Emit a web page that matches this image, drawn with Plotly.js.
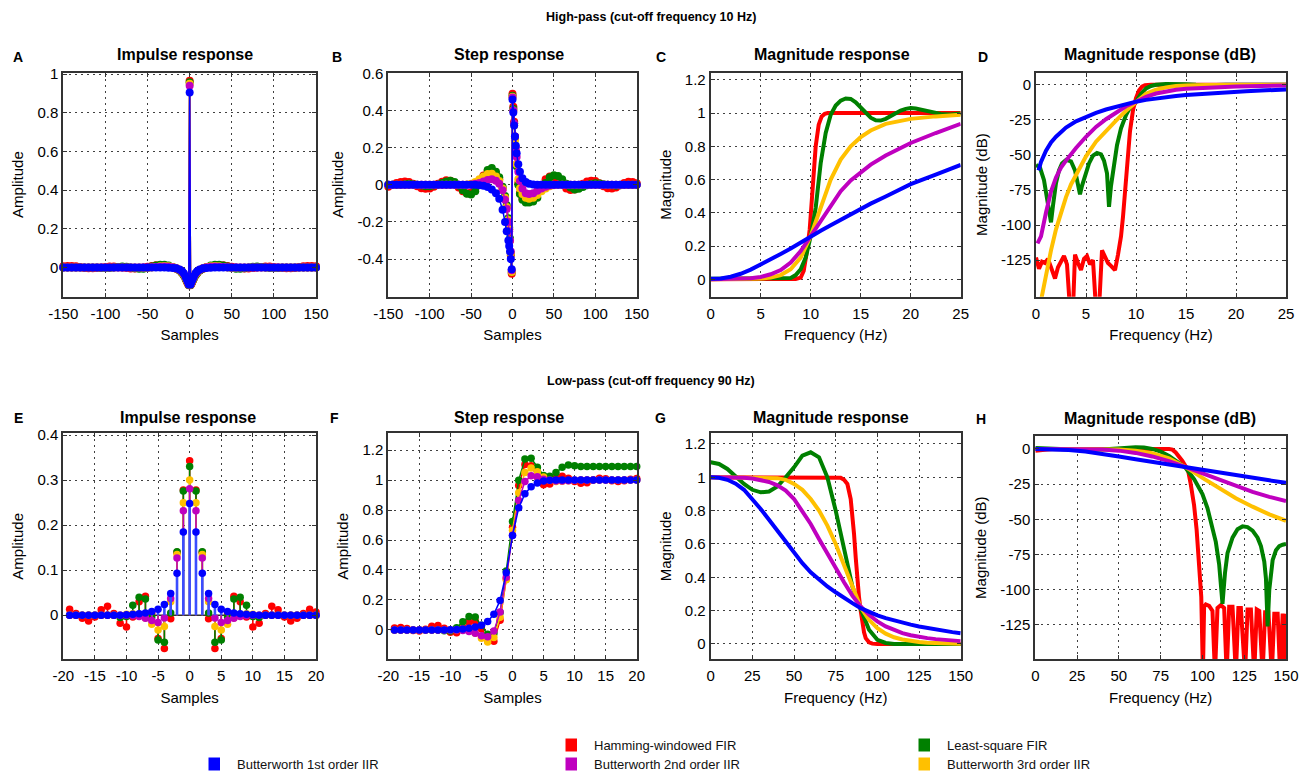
<!DOCTYPE html>
<html><head><meta charset="utf-8">
<script src="https://cdn.plot.ly/plotly-3.0.1.min.js"></script>
<style>html,body{margin:0;padding:0;background:#fff;}#chart{width:1306px;height:776px;}</style>
</head><body><div id="chart"></div>
<script>
// ---------------- DATA ----------------
const seriesKeys = ['red','green','yellow','magenta','blue'];
const seriesNames = {red:'Hamming-windowed FIR', green:'Least-square FIR', yellow:'Butterworth 3rd order IIR', magenta:'Butterworth 2nd order IIR', blue:'Butterworth 1st order IIR'};

// High-pass: samples for impulse / step responses
const hpSamples = [-150,-145,-140,-135,-130,-125,-120,-115,-110,-105,-100,-95,-90,-85,-80,-75,-70,-65,-60,-55,-50,-45,-40,-35,-30,-25,-20,-16,-12,-9,-7,-5,-4,-3,-2,-1,0,1,2,3,4,5,7,9,12,16,20,25,30,35,40,45,50,55,60,65,70,75,80,85,90,95,100,105,110,115,120,125,130,135,140,145,150];

const hpImpRed = [0.006,0.008,0.008,0.006,0.002,-0.002,-0.004,-0.004,-0.002,0,0.003,0.005,0.005,0.003,0,-0.003,-0.005,-0.005,-0.003,0,0.004,0.008,0.011,0.012,0.01,0.006,0,
 -0.006,-0.016,-0.028,-0.04,-0.056,-0.066,-0.076,-0.085,-0.092,0.965,-0.092,-0.085,-0.076,-0.066,-0.056,-0.04,-0.028,-0.016,-0.006,
 0,0.006,0.01,0.012,0.011,0.008,0.004,0,-0.003,-0.005,-0.005,-0.003,0,0.003,0.005,0.005,0.003,0,-0.002,-0.004,-0.004,-0.002,0.002,0.006,0.008,0.008,0.006];
const hpImpGreen = [0,0,0,0,0,0,0,0,0,-0.002,-0.003,-0.002,0,0.003,0.005,0.004,0,-0.004,-0.007,-0.006,-0.002,0.005,0.01,0.014,0.014,0.01,0.003,
 -0.005,-0.015,-0.028,-0.04,-0.055,-0.064,-0.073,-0.082,-0.09,0.958,-0.09,-0.082,-0.073,-0.064,-0.055,-0.04,-0.028,-0.015,-0.005,
 0.003,0.01,0.014,0.014,0.01,0.005,-0.002,-0.006,-0.007,-0.004,0,0.004,0.005,0.003,0,-0.002,-0.003,-0.002,0,0,0,0,0,0,0,0,0];
const hpImpYellow = [0,0,0,0,0,0,0,0,0,0,0,0,0,0,0,0,0,0,0,-0.001,-0.001,0,0.003,0.006,0.008,0.007,0.003,
 -0.003,-0.012,-0.024,-0.035,-0.05,-0.06,-0.07,-0.08,-0.088,0.95,-0.088,-0.08,-0.07,-0.06,-0.05,-0.035,-0.024,-0.012,-0.003,
 0.003,0.007,0.008,0.006,0.003,0,-0.001,-0.001,0,0,0,0,0,0,0,0,0,0,0,0,0,0,0,0,0,0,0];
const hpImpMagenta = [0,0,0,0,0,0,0,0,0,0,0,0,0,0,0,0,0,0,0,0,0,0.001,0.002,0.004,0.005,0.004,0.001,
 -0.004,-0.012,-0.022,-0.032,-0.046,-0.056,-0.066,-0.076,-0.086,0.94,-0.086,-0.076,-0.066,-0.056,-0.046,-0.032,-0.022,-0.012,-0.004,
 0.001,0.004,0.005,0.004,0.002,0.001,0,0,0,0,0,0,0,0,0,0,0,0,0,0,0,0,0,0,0,0,0];
const hpImpBlue = [0,0,0,0,0,0,0,0,0,0,0,0,0,0,0,0,0,0,0,0,0,0,0,0,0,-0.001,-0.002,
 -0.004,-0.01,-0.02,-0.03,-0.045,-0.055,-0.065,-0.075,-0.088,0.905,-0.088,-0.075,-0.065,-0.055,-0.045,-0.03,-0.02,-0.01,-0.004,
 -0.002,-0.001,0,0,0,0,0,0,0,0,0,0,0,0,0,0,0,0,0,0,0,0,0,0,0,0,0];

const hpStepRed = [-0.01,0,0.01,0.015,0.018,0.015,0.005,-0.008,-0.018,-0.022,-0.02,-0.01,0.005,0.017,0.024,0.022,0.01,-0.015,-0.035,-0.045,-0.042,-0.02,0.015,0.05,0.075,0.08,0.06,
 0.03,-0.02,-0.07,-0.12,-0.19,-0.24,-0.3,-0.38,-0.48,0.49,0.42,0.34,0.26,0.18,0.11,0.01,-0.045,-0.075,-0.088,
 -0.085,-0.07,-0.04,0,0.03,0.045,0.042,0.025,0,-0.02,-0.028,-0.025,-0.012,0.005,0.018,0.022,0.02,0.008,-0.008,-0.018,-0.02,-0.015,-0.003,0.01,0.016,0.015,0.008];
const hpStepGreen = [0,0,0,0,0.003,0.005,0.003,0,-0.004,-0.008,-0.008,-0.004,0.002,0.01,0.018,0.022,0.015,-0.005,-0.03,-0.048,-0.052,-0.035,0,0.045,0.08,0.09,0.07,
 0.04,-0.01,-0.06,-0.11,-0.18,-0.23,-0.29,-0.37,-0.47,0.48,0.41,0.33,0.25,0.17,0.1,0,-0.05,-0.08,-0.095,
 -0.095,-0.09,-0.07,-0.03,0.01,0.04,0.052,0.048,0.03,0.005,-0.015,-0.025,-0.022,-0.012,-0.002,0.005,0.008,0.007,0.003,0,-0.003,-0.005,-0.003,0,0,0,0];
const hpStepYellow = [0,0,0,0,0,0,0,0,0,0,0,0,0,0,0,0,0,0,0,0.002,0.006,0.015,0.03,0.045,0.058,0.06,0.045,
 0.02,-0.02,-0.07,-0.12,-0.19,-0.24,-0.3,-0.37,-0.47,0.475,0.4,0.32,0.24,0.17,0.11,0.03,-0.02,-0.05,-0.07,
 -0.075,-0.07,-0.055,-0.035,-0.02,-0.008,-0.002,0,0,0,0,0,0,0,0,0,0,0,0,0,0,0,0,0,0,0,0];
const hpStepMagenta = [0,0,0,0,0,0,0,0,0,0,0,0,0,0,0,0,0,0,0,0,0.002,0.005,0.01,0.018,0.026,0.03,0.022,
 0.005,-0.03,-0.08,-0.13,-0.2,-0.25,-0.3,-0.36,-0.46,0.47,0.4,0.33,0.26,0.2,0.15,0.07,0.02,-0.02,-0.045,
 -0.05,-0.045,-0.032,-0.02,-0.01,-0.004,-0.001,0,0,0,0,0,0,0,0,0,0,0,0,0,0,0,0,0,0,0,0];
const hpStepBlue = [0,0,0,0,0,0,0,0,0,0,0,0,0,0,0,0,0,0,0,0,0,0,-0.002,-0.005,-0.012,-0.025,-0.045,
 -0.075,-0.135,-0.2,-0.25,-0.3,-0.33,-0.36,-0.4,-0.455,0.46,0.39,0.32,0.26,0.21,0.17,0.11,0.07,0.035,0.015,
 0.006,0.002,0,0,0,0,0,0,0,0,0,0,0,0,0,0,0,0,0,0,0,0,0,0,0,0,0];

// High-pass magnitude response (linear)
const hpMagFreq = [0,1,2,3,4,5,6,7,8,9,10,11,12,13,14,15,16,17.5,20,22.5,25];
const hpMagBlue = [0.003,0.005,0.015,0.033,0.058,0.088,0.12,0.152,0.185,0.222,0.257,0.292,0.325,0.358,0.395,0.428,0.455,0.498,0.572,0.63,0.688];
const hpMagMagenta = [0,0,0.001,0.002,0.006,0.014,0.03,0.055,0.1,0.17,0.26,0.36,0.45,0.53,0.595,0.645,0.69,0.745,0.82,0.88,0.935];
const hpMagYellow = [0,0,0,0,0.001,0.004,0.01,0.025,0.06,0.13,0.26,0.43,0.6,0.72,0.8,0.855,0.895,0.935,0.965,0.98,0.99];
const hpMagGreenFreq = [0,7.5,8,8.5,9,9.5,10,10.5,11,11.5,12,12.5,13,13.5,14,14.5,15,15.5,16,16.5,17,17.5,18,18.5,19,19.5,20,20.5,21,22,23,24,25];
const hpMagGreen = [0.003,0.003,0.008,0.025,0.06,0.13,0.26,0.43,0.7,0.88,0.99,1.045,1.075,1.088,1.085,1.065,1.035,1.0,0.972,0.957,0.955,0.965,0.982,1.0,1.015,1.025,1.03,1.027,1.02,1.006,0.995,0.992,0.998];
const hpMagRedFreq = [0,8.5,9,9.3,9.6,9.9,10.2,10.5,10.8,11.1,11.4,11.7,25];
const hpMagRed = [0,0.002,0.01,0.05,0.16,0.3,0.55,0.8,0.93,0.98,0.995,1.0,1.0];

// High-pass magnitude response (dB)
const hpDbBlueFreq = [0.25,0.5,1,1.5,2,3,4,5,6,7,8,9,10,11,12,13,14,15,17,19,21,23,25];
const hpDbBlue = [-61,-55,-47,-41,-37,-30.5,-26,-22.8,-20,-17.6,-15.5,-13.6,-12,-10.7,-9.6,-8.8,-8,-7.3,-6.2,-5.2,-4.5,-3.9,-3.4];
const hpDbMagentaFreq = [0.15,0.5,1,1.5,2,2.5,3,3.5,4,5,6,7,8,9,10,11,12,13,14,15,17,20,22.5,25];
const hpDbMagenta = [-113,-108,-91,-76,-66,-59,-54,-49,-45,-37,-30,-24.5,-19.5,-15.3,-12,-8.5,-6.2,-4.6,-3.5,-2.8,-1.9,-1.2,-0.8,-0.5];
const hpDbYellowFreq = [0.55,1,1.5,2,2.5,3,3.5,4,5,6,7,8,9,10,11,12,13,14,15,17,20,25];
const hpDbYellow = [-152,-134,-118,-103,-91,-80,-71,-64,-51,-40.5,-32.5,-25.5,-18.5,-12,-6.4,-3.5,-1.8,-0.9,-0.4,-0.15,0,0];
const hpDbGreenFreq = [0,0.4,0.8,1.1,1.35,1.5,1.7,2,2.3,2.6,3,3.5,3.9,4.2,4.4,4.6,4.9,5.3,5.7,6.1,6.5,6.8,7.1,7.3,7.5,7.8,8.1,8.5,9,9.5,10,10.5,11,11.5,12,13,14,15,16,17,18,19,20,21,22,23,25];
const hpDbGreen = [-57,-59,-68,-81,-94,-98,-86,-70,-61,-56,-53.5,-54.5,-61,-70,-78,-72,-64,-56,-50.5,-48.5,-49.5,-54,-63,-87,-72,-58,-43,-31,-21.5,-15,-12,-6.5,-2.6,-0.8,0.1,0.6,0.7,0.4,0,-0.3,-0.15,0.15,0.2,0.15,0.05,-0.05,0];
const hpDbRedFreq = [0,0.3,0.6,0.9,1.2,1.5,1.9,2.2,2.5,2.8,3.1,3.4,3.7,3.9,4.2,4.5,4.8,5.1,5.4,5.7,6.0,6.3,6.6,6.9,7.2,7.5,7.9,8.2,8.5,8.7,8.9,9.1,9.4,9.7,10,10.3,10.6,10.9,11.5,25];
const hpDbRed = [-123,-131,-126,-127,-124,-131,-138,-130,-126,-122,-128,-160,-160,-121,-127,-132,-124,-122,-128,-125,-160,-160,-118,-122,-127,-129,-132,-121,-108,-94,-78,-60,-33,-18,-9.5,-4,-1.2,-0.2,0,0];

// Low-pass: samples for impulse / step responses
const lpSamples = [-19,-18,-17,-16,-15,-14,-13,-12,-11,-10,-9,-8,-7,-6,-5,-4,-3,-2,-1,0,1,2,3,4,5,6,7,8,9,10,11,12,13,14,15,16,17,18,19,20];
const lpImpRed = [0.013,0.004,-0.007,-0.013,-0.004,0.012,0.02,0.004,-0.018,-0.026,-0.004,0.03,0.042,0.005,-0.052,-0.074,-0.008,0.14,0.278,0.343,0.278,0.14,-0.008,-0.074,-0.052,0.005,0.042,0.03,-0.004,-0.026,-0.018,0.004,0.02,0.012,-0.004,-0.013,-0.007,0.004,0.013,0.007];
const lpImpGreen = [0,0,0,0,0,0,0,0,-0.005,-0.003,0.022,0.04,0.036,-0.004,-0.055,-0.06,0.005,0.141,0.276,0.33,0.276,0.141,0.005,-0.06,-0.055,-0.004,0.036,0.04,0.022,-0.003,-0.005,0,0,0,0,0,0,0,0,0];
const lpImpYellow = [0,0,0,0,0,0,0,0,0,0.002,0.003,0.002,-0.006,-0.02,-0.033,-0.025,0.03,0.135,0.25,0.3,0.25,0.135,0.03,-0.025,-0.033,-0.02,-0.006,0.002,0.003,0.002,0,0,0,0,0,0,0,0,0,0];
const lpImpMagenta = [0,0,0,0,0,0,0,0,0,0,-0.001,-0.003,-0.007,-0.012,-0.016,-0.006,0.037,0.127,0.232,0.281,0.232,0.127,0.037,-0.006,-0.016,-0.012,-0.007,-0.003,-0.001,0,0,0,0,0,0,0,0,0,0,0];
const lpImpBlue = [0,0,0,0,0,0,0,0,0,0.001,0.002,0.003,0.005,0.008,0.013,0.024,0.048,0.093,0.185,0.248,0.185,0.093,0.048,0.024,0.013,0.008,0.005,0.003,0.002,0.001,0,0,0,0,0,0,0,0,0,0];

const lpStepRed = [0.013,0.017,0.01,-0.003,-0.007,0.005,0.025,0.029,0.011,-0.015,-0.019,0.011,0.053,0.058,0.006,-0.068,-0.076,0.064,0.342,0.685,0.963,1.103,1.095,1.021,0.969,0.974,1.016,1.026,1.012,0.99,0.978,0.982,1.0,1.012,1.008,0.995,0.99,0.995,1.006,1.01];
const lpStepGreen = [0,0,0,0,0,0,0,0,-0.005,-0.008,0.014,0.054,0.09,0.086,0.031,-0.029,-0.024,0.117,0.393,0.723,0.999,1.14,1.145,1.085,1.03,1.026,1.05,1.085,1.1,1.095,1.09,1.09,1.09,1.09,1.09,1.09,1.09,1.09,1.09,1.09];
const lpStepYellow = [0,0,0,0,0,0,0,0,0,0,0.002,0.004,-0.002,-0.022,-0.055,-0.08,-0.05,0.085,0.335,0.665,0.915,1.05,1.08,1.055,1.02,0.998,0.99,0.992,0.995,0.998,1,1,1,1,1,1,1,1,1,1];
const lpStepMagenta = [0,0,0,0,0,0,0,0,0,0,-0.001,-0.004,-0.011,-0.023,-0.039,-0.045,-0.008,0.119,0.351,0.632,0.864,0.991,1.028,1.022,1.006,0.998,0.994,0.994,0.996,0.998,1,1,1,1,1,1,1,1,1,1];
const lpStepBlue = [0,0,0,0,0,0,0,0,0,0.001,0.003,0.006,0.011,0.019,0.032,0.056,0.104,0.197,0.382,0.63,0.815,0.908,0.956,0.98,0.993,0.998,1,1,1,1,1,1,1,1,1,1,1,1,1,1];

// Low-pass magnitude response (linear)
const lpMagFreq = [0,5,10,15,20,25,30,35,40,45,50,55,60,65,70,75,80,85,90,95,100,105,110,115,120,125,130,135,140,145,150];
const lpMagBlue = [1.0,0.997,0.985,0.962,0.925,0.87,0.81,0.745,0.68,0.61,0.545,0.485,0.43,0.385,0.345,0.31,0.275,0.245,0.215,0.192,0.172,0.155,0.14,0.127,0.116,0.105,0.095,0.087,0.08,0.071,0.064];
const lpMagMagenta = [1.0,1.0,1.0,0.999,0.997,0.993,0.985,0.972,0.952,0.92,0.87,0.8,0.72,0.63,0.54,0.45,0.37,0.29,0.225,0.175,0.135,0.105,0.082,0.065,0.052,0.042,0.035,0.029,0.024,0.02,0.017];
const lpMagYellow = [1,1,1,1,1,1,0.999,0.998,0.995,0.985,0.96,0.925,0.87,0.8,0.71,0.6,0.47,0.34,0.22,0.145,0.095,0.062,0.04,0.027,0.018,0.012,0.008,0.006,0.004,0.003,0.002];
const lpMagGreen = [1.09,1.08,1.05,1.005,0.96,0.925,0.91,0.915,0.945,1.0,1.06,1.13,1.15,1.12,1.0,0.8,0.565,0.345,0.21,0.085,0.025,0.006,0.0,0.001,0.0015,0.0018,0.0012,0.0003,0.0,0.0003,0.0004];
const lpMagRedFreq = [0,75,78,80,82,84,85,86,87,88,89,90,91,92,93,95,97,100,150];
const lpMagRed = [1.0,1.0,0.997,0.985,0.96,0.87,0.78,0.66,0.52,0.38,0.28,0.2,0.12,0.07,0.035,0.01,0.002,0,0];

// Low-pass magnitude response (dB)
const lpDbFreq = [0,10,20,30,40,50,60,70,80,90,100,110,120,130,140,150];
const lpDbBlue = [0,-0.13,-0.68,-1.8,-3.3,-5.3,-7.3,-9.2,-11.2,-13.3,-15.1,-16.9,-18.7,-20.5,-22.3,-24];
const lpDbMagenta = [0,0,-0.03,-0.1,-0.4,-1.2,-2.8,-5.3,-8.6,-12.9,-17.4,-21.7,-26.3,-30.5,-34,-37];
const lpDbYellow = [0,0,0,0,-0.05,-0.35,-1.3,-3,-6.6,-12.9,-20.5,-28,-35,-41,-46.5,-51];
const lpDbGreenFreq = [0,10,20,30,40,50,55,60,65,70,75,80,85,90,95,100,103,106,108,110,112,113.5,115,118,121,124,127,130,133,135,137,138,139,140,141,142,144,146,148,150];
const lpDbGreen = [0.75,0.4,-0.35,-0.8,-0.4,0.5,1.05,1.2,1.0,0,-1.9,-5,-9.2,-13.5,-21.4,-32,-42,-55,-66,-82,-110,-88,-74,-63,-57,-55,-55.5,-58,-63,-69,-80,-92,-126,-100,-86,-79,-72,-69,-68,-67.5];
const lpDbRedFreq = [0,5,10,80,82,84,86,88,90,91.5,93,95,96.5,98,99.3,100.3,101,102,104,106,107.5,109,111,113,114.5,116,118,120,121.5,123,125.5,127,129,131,132.5,134,136,137.5,139.5,141.5,143,145,146.5,148,149.5,150];
const lpDbRed = [-1.2,-0.4,0,0,-0.5,-2.5,-5,-8.5,-12.5,-16,-25,-40,-57,-80,-105,-160,-112,-110.5,-111.5,-115,-160,-113,-111,-113,-160,-112,-112,-160,-113,-113,-160,-114,-114,-160,-114,-115,-160,-116,-116,-160,-117,-117,-160,-117,-160,-117];

// Tick values
const ticksHpSamples = [-150,-100,-50,0,50,100,150];
const ticksHpImp = [0,0.2,0.4,0.6,0.8,1];
const ticksHpStep = [-0.4,-0.2,0,0.2,0.4,0.6];
const ticksHpFreq = [0,5,10,15,20,25];
const ticksMag = [0,0.2,0.4,0.6,0.8,1,1.2];
const ticksDb = [-125,-100,-75,-50,-25,0];
const ticksLpSamples = [-20,-15,-10,-5,0,5,10,15,20];
const ticksLpImp = [0,0.1,0.2,0.3,0.4];
const ticksLpStep = [0,0.2,0.4,0.6,0.8,1,1.2];
const ticksLpFreq = [0,25,50,75,100,125,150];

// ---------------- DRAWING ----------------
const W = 1306, H = 776;
const FONT = 'Liberation Sans, Arial, Helvetica, sans-serif';
const colors = {red:'#FF0000', green:'#008000', yellow:'#FFC000', magenta:'#BF00BF', blue:'#0000FF'};
const traces = [];
function xa(i){return 'x'+(i>1?i:'');}
function ya(i){return 'y'+(i>1?i:'');}

function addLineMarkers(i, xs, ys, msize){
  seriesKeys.forEach(k=>{
    traces.push({type:'scatter', mode:'lines+markers', name:seriesNames[k], x:xs, y:ys[k], xaxis:xa(i), yaxis:ya(i),
      line:{color:colors[k], width:1.5}, marker:{color:colors[k], size:msize, line:{width:0}}, cliponaxis:false, hoverinfo:'skip'});
  });
}
function addStems(i, xs, ys, msize){
  traces.push({type:'scatter', mode:'lines', x:[Math.min(...xs), Math.max(...xs)], y:[0,0], xaxis:xa(i), yaxis:ya(i),
    line:{color:'#303030', width:1.5}, hoverinfo:'skip'});
  seriesKeys.forEach(k=>{
    const sx=[], sy=[];
    xs.forEach((v,j)=>{sx.push(v,v,null); sy.push(0,ys[k][j],null);});
    traces.push({type:'scatter', mode:'lines', x:sx, y:sy, xaxis:xa(i), yaxis:ya(i),
      line:{color:(k==='blue'?'#3a4dff':colors[k]), width:(k==='blue'?2.6:1.6)}, hoverinfo:'skip', connectgaps:false});
    traces.push({type:'scatter', mode:'markers', name:seriesNames[k], x:xs, y:ys[k], xaxis:xa(i), yaxis:ya(i),
      marker:{color:colors[k], size:msize, line:{width:0}}, cliponaxis:false, hoverinfo:'skip'});
  });
}
function addLines(i, xs, ys){
  seriesKeys.forEach(k=>{
    traces.push({type:'scatter', mode:'lines', name:seriesNames[k], x:xs[k], y:ys[k], xaxis:xa(i), yaxis:ya(i),
      line:{color:colors[k], width:4}, hoverinfo:'skip'});
  });
}

// A
addLineMarkers(1, hpSamples, {red:hpImpRed, green:hpImpGreen, yellow:hpImpYellow, magenta:hpImpMagenta, blue:hpImpBlue}, 8);
// B
addLineMarkers(2, hpSamples, {red:hpStepRed, green:hpStepGreen, yellow:hpStepYellow, magenta:hpStepMagenta, blue:hpStepBlue}, 8);
// C
addLines(3, {red:hpMagRedFreq, green:hpMagGreenFreq, yellow:hpMagFreq, magenta:hpMagFreq, blue:hpMagFreq},
            {red:hpMagRed, green:hpMagGreen, yellow:hpMagYellow, magenta:hpMagMagenta, blue:hpMagBlue});
// D
addLines(4, {red:hpDbRedFreq, green:hpDbGreenFreq, yellow:hpDbYellowFreq, magenta:hpDbMagentaFreq, blue:hpDbBlueFreq},
            {red:hpDbRed, green:hpDbGreen, yellow:hpDbYellow, magenta:hpDbMagenta, blue:hpDbBlue});
// E
addStems(5, lpSamples, {red:lpImpRed, green:lpImpGreen, yellow:lpImpYellow, magenta:lpImpMagenta, blue:lpImpBlue}, 7.5);
// F
addLineMarkers(6, lpSamples, {red:lpStepRed, green:lpStepGreen, yellow:lpStepYellow, magenta:lpStepMagenta, blue:lpStepBlue}, 7.5);
// G
addLines(7, {red:lpMagRedFreq, green:lpMagFreq, yellow:lpMagFreq, magenta:lpMagFreq, blue:lpMagFreq},
            {red:lpMagRed, green:lpMagGreen, yellow:lpMagYellow, magenta:lpMagMagenta, blue:lpMagBlue});
// H
addLines(8, {red:lpDbRedFreq, green:lpDbGreenFreq, yellow:lpDbFreq, magenta:lpDbFreq, blue:lpDbFreq},
            {red:lpDbRed, green:lpDbGreen, yellow:lpDbYellow, magenta:lpDbMagenta, blue:lpDbBlue});

const panels = [
  {box:[63.3,316,72.5,296.7], xr:[-150,150], yr:[-0.151,1.008], xt:ticksHpSamples, yt:ticksHpImp, xtitle:'Samples', ytitle:'Amplitude', title:'Impulse response', tx:185, ty:55, letter:'A', lx:18, ly:57},
  {box:[388.3,636.7,72.5,296.7], xr:[-150,150], yr:[-0.603,0.605], xt:ticksHpSamples, yt:ticksHpStep, xtitle:'Samples', ytitle:'Amplitude', title:'Step response', tx:509, ty:55, letter:'B', lx:337, ly:57},
  {box:[710.7,960.7,72.5,296.7], xr:[0,25], yr:[-0.105,1.244], xt:ticksHpFreq, yt:ticksMag, xtitle:'Frequency (Hz)', ytitle:'Magnitude', title:'Magnitude response', tx:832, ty:55, letter:'C', lx:661, ly:57},
  {box:[1036,1286,72.5,296.7], xr:[0,25], yr:[-151,8.8], xt:ticksHpFreq, yt:ticksDb, xtitle:'Frequency (Hz)', ytitle:'Magnitude (dB)', title:'Magnitude response (dB)', tx:1160, ty:55, letter:'D', lx:983, ly:57},
  {box:[63.3,316,433.3,659.3], xr:[-20,20], yr:[-0.098,0.404], xt:ticksLpSamples, yt:ticksLpImp, xtitle:'Samples', ytitle:'Amplitude', title:'Impulse response', tx:188, ty:417, letter:'E', lx:18, ly:418},
  {box:[388.3,636.7,433.3,659.3], xr:[-20,20], yr:[-0.196,1.312], xt:ticksLpSamples, yt:ticksLpStep, xtitle:'Samples', ytitle:'Amplitude', title:'Step response', tx:509, ty:417, letter:'F', lx:334, ly:418},
  {box:[710.7,960.7,433.3,659.3], xr:[0,150], yr:[-0.092,1.264], xt:ticksLpFreq, yt:ticksMag, xtitle:'Frequency (Hz)', ytitle:'Magnitude', title:'Magnitude response', tx:831, ty:417, letter:'G', lx:660, ly:418},
  {box:[1035.3,1286,436,659.3], xr:[0,150], yr:[-149.4,9.2], xt:ticksLpFreq, yt:ticksDb, xtitle:'Frequency (Hz)', ytitle:'Magnitude (dB)', title:'Magnitude response (dB)', tx:1160, ty:418, letter:'H', lx:981, ly:419}
];

const layout = {
  width:W, height:H, margin:{l:0,r:0,t:0,b:0}, paper_bgcolor:'#ffffff', plot_bgcolor:'#ffffff',
  showlegend:false, hovermode:false, font:{family:FONT, size:15, color:'#000'},
  annotations:[], shapes:[]
};
const common = {
  showline:true, mirror:'ticks', linecolor:'#333333', linewidth:2,
  ticks:'inside', ticklen:4, tickwidth:1, tickcolor:'#333333',
  showgrid:true, gridcolor:'#404040', gridwidth:1, griddash:'2px,4px',
  zeroline:false, automargin:false, fixedrange:true,
  tickfont:{family:FONT, size:15, color:'#000'}
};
function px2x(v){return v/W;}
function px2y(v){return 1 - v/H;}

panels.forEach((p, idx)=>{
  const i = idx+1;
  const xk = 'xaxis'+(i>1?i:''), yk = 'yaxis'+(i>1?i:'');
  layout[xk] = Object.assign({}, common, {
    domain:[px2x(p.box[0]), px2x(p.box[1])], range:p.xr, anchor:ya(i),
    tickmode:'array', tickvals:p.xt, ticktext:p.xt.map(String), ticklabelstandoff:2,
    title:{text:p.xtitle, font:{family:FONT, size:15, color:'#000'}, standoff:9}
  });
  layout[yk] = Object.assign({}, common, {
    domain:[px2y(p.box[3]), px2y(p.box[2])], range:p.yr, anchor:xa(i),
    tickmode:'array', tickvals:p.yt, ticktext:p.yt.map(String),
    title:{text:p.ytitle, font:{family:FONT, size:15, color:'#000'}, standoff:10}
  });
  layout.annotations.push({xref:'paper', yref:'paper', x:px2x(p.tx), y:px2y(p.ty), xanchor:'center', yanchor:'middle',
    text:'<b>'+p.title+'</b>', showarrow:false, font:{family:FONT, size:16, color:'#000'}});
  layout.annotations.push({xref:'paper', yref:'paper', x:px2x(p.lx), y:px2y(p.ly), xanchor:'center', yanchor:'middle',
    text:'<b>'+p.letter+'</b>', showarrow:false, font:{family:FONT, size:14, color:'#000'}});
});

// Row headers
layout.annotations.push({xref:'paper', yref:'paper', x:px2x(651), y:px2y(17), xanchor:'center', yanchor:'middle',
  text:'<b>High-pass (cut-off frequency 10 Hz)</b>', showarrow:false, font:{family:FONT, size:12.5, color:'#000'}});
layout.annotations.push({xref:'paper', yref:'paper', x:px2x(651), y:px2y(381), xanchor:'center', yanchor:'middle',
  text:'<b>Low-pass (cut-off frequency 90 Hz)</b>', showarrow:false, font:{family:FONT, size:12.5, color:'#000'}});

// Custom legend (three columns as in reference)
const legendItems = [
  {k:'blue', sx:208.5, cy:764},
  {k:'red', sx:565.5, cy:745},
  {k:'magenta', sx:565.5, cy:764},
  {k:'green', sx:918.5, cy:745},
  {k:'yellow', sx:918.5, cy:764}
];
legendItems.forEach(it=>{
  layout.shapes.push({type:'rect', xref:'paper', yref:'paper', x0:px2x(it.sx), x1:px2x(it.sx+11.5), y0:px2y(it.cy+6.5), y1:px2y(it.cy-6.5),
    fillcolor:colors[it.k], line:{width:0}});
  layout.annotations.push({xref:'paper', yref:'paper', x:px2x(it.sx+26), y:px2y(it.cy), xanchor:'left', yanchor:'middle',
    text:seriesNames[it.k], showarrow:false, font:{family:FONT, size:13, color:'#111'}});
});

Plotly.newPlot('chart', traces, layout, {staticPlot:true, displayModeBar:false});
</script></body></html>
